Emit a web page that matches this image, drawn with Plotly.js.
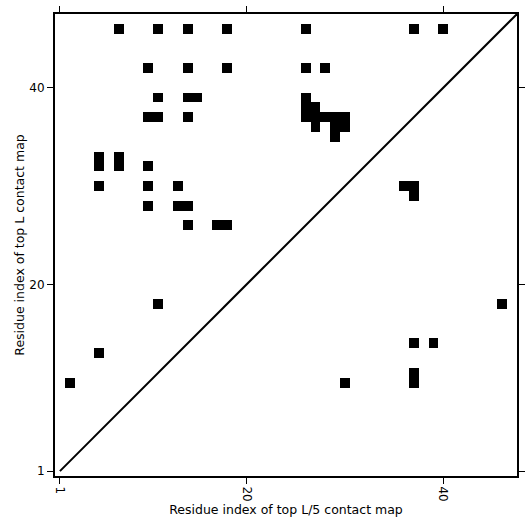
<!DOCTYPE html>
<html>
<head>
<meta charset="utf-8">
<script src="https://cdn.plot.ly/plotly-3.0.1.min.js"></script>
<style>html,body{margin:0;padding:0;background:#fff;}#chart{width:531px;height:531px;}</style>
</head>
<body>
<div id="chart"></div>
<script>
const seqLength = 47;
// contacts: residue index on x (top L/5 map) and y (top L map)
const contactX = [7,11,14,18,26,37,40, 10,14,18,26,28, 11,14,15,26, 26,27, 10,11,14,26,27,28,29,30, 27,29,30, 29, 5,7,5,7,10, 5,10,13, 10,13,14, 14,17,18, 11,5,2,
                  36,37,37,46,37,39,37,37,30];
const contactY = [46,46,46,46,46,46,46, 42,42,42,42,42, 39,39,39,39, 38,38, 37,37,37,37,37,37,37,37, 36,36,36, 35, 33,33,32,32,32, 30,30,30, 28,28,28, 26,26,26, 18,13,10,
                  30,30,29,18,14,14,11,10,10];
const diagX = [1, 47.5];
const diagY = [1, 47.5];
const tickVals = [1, 20, 40];
const tickText = ['1', '20', '40'];

const idx = [];
for (let i = 1; i <= seqLength; i++) idx.push(i);
const z = idx.map(() => idx.map(() => null));
for (let k = 0; k < contactX.length; k++) z[contactY[k] - 1][contactX[k] - 1] = 1;

const tickFont = {family: 'DejaVu Sans', size: 12, color: '#000'};
const titleFont = {family: 'DejaVu Sans', size: 12.5, color: '#000'};
const axisCommon = {
  range: [0.5, 47.5], tickvals: tickVals, ticktext: tickText,
  ticks: 'outside', ticklen: 6, tickwidth: 1, tickcolor: '#000',
  showline: true, linecolor: '#000', linewidth: 2, mirror: 'allticks',
  showgrid: false, zeroline: false, tickfont: tickFont
};
const data = [
  {type: 'heatmap', x: idx, y: idx, z: z, colorscale: [[0, '#000'], [1, '#000']],
   showscale: false, hoverongaps: false},
  {type: 'scatter', mode: 'lines', x: diagX, y: diagY, line: {color: '#000', width: 2}, showlegend: false}
];
const layout = {
  width: 531, height: 531,
  margin: {l: 55, r: 14, t: 14, b: 55},
  paper_bgcolor: '#fff', plot_bgcolor: '#fff',
  showlegend: false,
  font: titleFont,
  xaxis: Object.assign({}, axisCommon, {tickangle: 90,
    title: {text: 'Residue index of top L/5 contact map', font: titleFont, standoff: 3}}),
  yaxis: Object.assign({}, axisCommon, {tickangle: 0,
    title: {text: 'Residue index of top L contact map', font: titleFont, standoff: 2}})
};
Plotly.newPlot('chart', data, layout, {displayModeBar: false, staticPlot: true});
</script>
</body>
</html>
